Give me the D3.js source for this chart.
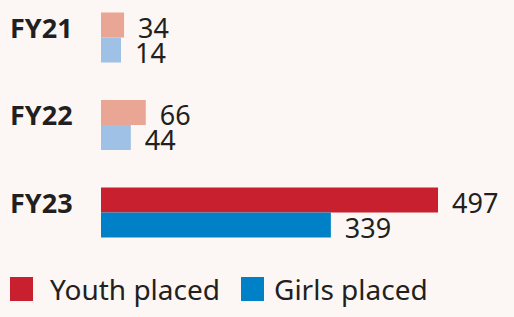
<!DOCTYPE html>
<html>
<head>
<meta charset="utf-8">
<script src="https://cdn.jsdelivr.net/npm/d3@7"></script>
<style>
	html, body { margin: 0; padding: 0; background: #fcf7f4; }
	svg { display: block; font-family: "Noto Sans", sans-serif; }
</style>
</head>
<body>
<div id="chart"></div>
<script>
// data
const years = ['FY21', 'FY22', 'FY23']
const youthPlaced = [34, 66, 497]
const girlsPlaced = [14, 44, 339]
const seriesNames = ['Youth placed', 'Girls placed']

// earlier years are drawn faded, the latest year at full colour
const youthColors = ['#e9a694', '#e9a694', '#c8202f']
const girlsColors = ['#a0c1e6', '#a0c1e6', '#0080c6']

const width = 514
const height = 317
const textColor = '#231f20'
const minBarWidth = 20

const svg = d3.select('#chart').append('svg')
	.attr('width', width)
	.attr('height', height)

svg.append('rect')
	.attr('width', width)
	.attr('height', height)
	.attr('fill', '#fcf7f4')

// scales
const x = d3.scaleLinear()
	.domain([0, 497])
	.range([101, 438])

const y = d3.scaleBand()
	.domain(years)
	.range([12.5, 237.5])
	.paddingInner(37.5 / 87.5)
	.paddingOuter(0)

const ySub = d3.scaleBand()
	.domain(['youth', 'girls'])
	.range([0, y.bandwidth()])

const rows = years.map((yr, i) => ({
	year: yr,
	bars: [
		{ key: 'youth', value: youthPlaced[i], color: youthColors[i] },
		{ key: 'girls', value: girlsPlaced[i], color: girlsColors[i] }
	]
}))

const groups = svg.selectAll('.group')
	.data(rows)
	.enter()
	.append('g')
	.attr('class', 'group')
	.attr('transform', d => `translate(0,${y(d.year)})`)

// category labels, baseline on the middle of the group
groups.append('text')
	.attr('x', 10)
	.attr('y', ySub('girls'))
	.attr('font-size', 27)
	.attr('font-weight', 700)
	.attr('fill', textColor)
	.text(d => d.year)

const barW = v => Math.max(x(v) - x(0), minBarWidth)

groups.selectAll('rect')
	.data(d => d.bars)
	.enter()
	.append('rect')
	.attr('x', x(0))
	.attr('y', d => ySub(d.key))
	.attr('width', d => barW(d.value))
	.attr('height', ySub.bandwidth())
	.attr('fill', d => d.color)

// value labels sit on the bottom edge of each bar
groups.selectAll('.val')
	.data(d => d.bars)
	.enter()
	.append('text')
	.attr('class', 'val')
	.attr('x', d => x(0) + barW(d.value) + 14)
	.attr('y', d => ySub(d.key) + ySub.bandwidth())
	.attr('font-size', 27)
	.attr('fill', textColor)
	.text(d => d.value)

// legend
const legendX = [10, 241]
const legendTextX = [40, 33]
const legendColors = [youthColors[2], girlsColors[2]]

const legend = svg.selectAll('.legend')
	.data(seriesNames)
	.enter()
	.append('g')
	.attr('class', 'legend')
	.attr('transform', (d, i) => `translate(${legendX[i]},277)`)

legend.append('rect')
	.attr('width', 23)
	.attr('height', 24)
	.attr('fill', (d, i) => legendColors[i])

legend.append('text')
	.attr('x', (d, i) => legendTextX[i])
	.attr('y', 23)
	.attr('font-size', 28)
	.attr('fill', textColor)
	.text(d => d)
</script>
</body>
</html>
